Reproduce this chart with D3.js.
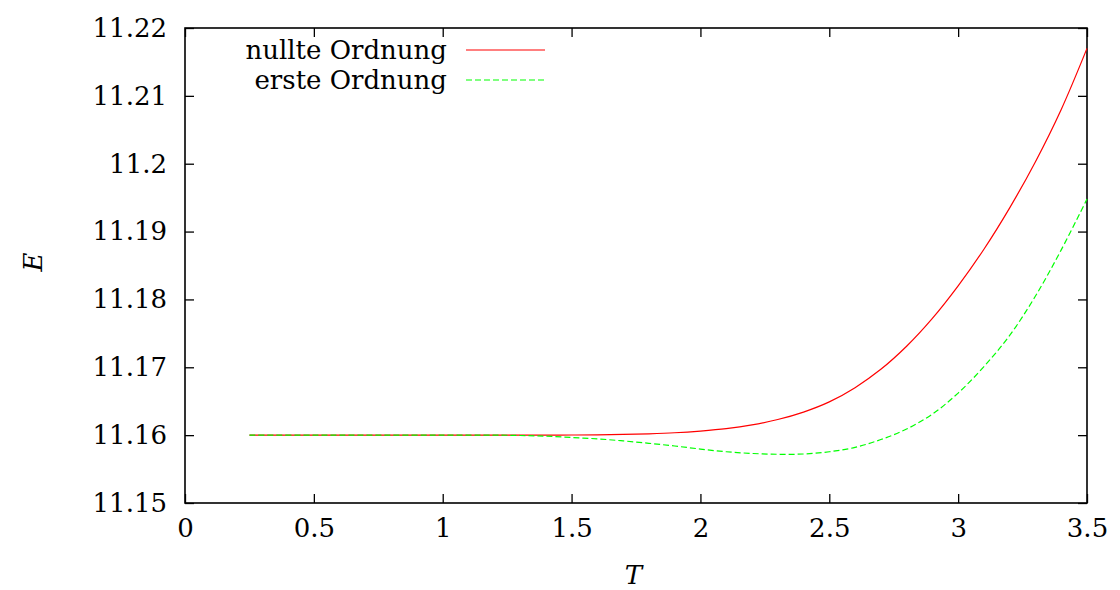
<!DOCTYPE html>
<meta charset="utf-8">
<style>
    body { margin: 0; background: #fff; }
    svg text { font-family: "DejaVu Serif", "Liberation Serif", serif; fill: #000; }
    .axis path { display: none; }
    .axis line { stroke: #000; stroke-width: 1.3px; }
</style>
<svg id="chart" width="1120" height="590"></svg>
<script src="https://cdn.jsdelivr.net/npm/d3@7"></script>
<script>
// T values (x) shared by both series
var tValues = [0.25, 0.5, 0.75, 1.0, 1.2, 1.3, 1.4, 1.5, 1.6, 1.7, 1.8, 1.9, 2.0,
               2.1, 2.2, 2.3, 2.4, 2.5, 2.6, 2.7, 2.8, 2.9, 3.0, 3.1, 3.2, 3.3, 3.4, 3.5];

// nullte Ordnung
var eNullte = [11.16, 11.16, 11.16, 11.16, 11.16, 11.16, 11.16001, 11.16002, 11.16005, 11.1601,
               11.1602, 11.16035, 11.1606, 11.16095, 11.1615, 11.1623, 11.1634, 11.1649,
               11.167, 11.1697, 11.1731, 11.1772, 11.182, 11.1874, 11.1935, 11.2003, 11.208, 11.217];

// erste Ordnung
var eErste = [11.16, 11.16, 11.16, 11.16, 11.16, 11.15995, 11.15985, 11.15965, 11.15945, 11.15915,
              11.1588, 11.1584, 11.15795, 11.15755, 11.1573, 11.15718, 11.15722, 11.15755,
              11.1582, 11.15935, 11.1609, 11.1631, 11.1662, 11.1701, 11.1747, 11.1805, 11.1873, 11.1948];

var seriesNames = ["nullte Ordnung", "erste Ordnung"];
var xTicks = [0, 0.5, 1, 1.5, 2, 2.5, 3, 3.5];
var yTicks = [11.15, 11.16, 11.17, 11.18, 11.19, 11.2, 11.21, 11.22];

var margin = {top: 28, right: 33, bottom: 87, left: 185};
var width = 1120 - margin.left - margin.right;
var height = 590 - margin.top - margin.bottom;

var svg = d3.select("#chart");
var g = svg.append("g").attr("transform", "translate(" + margin.left + "," + margin.top + ")");

var x = d3.scaleLinear().domain([0, 3.5]).range([0, width]);
var y = d3.scaleLinear().domain([11.15, 11.22]).range([height, 0]);

var tickLen = 9;
var fontSize = 26;

// bottom axis with labels, ticks pointing inward
g.append("g").attr("class", "axis")
    .attr("transform", "translate(0," + height + ")")
    .call(d3.axisBottom(x).tickValues(xTicks).tickFormat(d3.format("")).tickSizeInner(-tickLen).tickSizeOuter(0).tickPadding(16))
    .selectAll("text").style("font-size", fontSize + "px");

// top mirror ticks
g.append("g").attr("class", "axis")
    .call(d3.axisTop(x).tickValues(xTicks).tickFormat("").tickSizeInner(-tickLen).tickSizeOuter(0));

// left axis
g.append("g").attr("class", "axis")
    .call(d3.axisLeft(y).tickValues(yTicks).tickFormat(d3.format("")).tickSizeInner(-tickLen).tickSizeOuter(0).tickPadding(18))
    .selectAll("text").style("font-size", fontSize + "px");

// right mirror ticks
g.append("g").attr("class", "axis")
    .attr("transform", "translate(" + width + ",0)")
    .call(d3.axisRight(y).tickValues(yTicks).tickFormat("").tickSizeInner(-tickLen).tickSizeOuter(0));

// frame
g.append("rect")
    .attr("width", width).attr("height", height)
    .attr("fill", "none").attr("stroke", "#000").attr("stroke-width", 1.6);

var line = d3.line()
    .x(d => x(d[0]))
    .y(d => y(d[1]))
    .curve(d3.curveCatmullRom.alpha(0.5));

var series = [
    {name: seriesNames[0], values: eNullte, color: "#ff0000", dash: null},
    {name: seriesNames[1], values: eErste, color: "#00ff00", dash: "6,3"}
];

series.forEach(function(s) {
    g.append("path")
        .datum(tValues.map((t, i) => [t, s.values[i]]))
        .attr("d", line)
        .attr("fill", "none")
        .attr("stroke", s.color)
        .attr("stroke-width", 1.2)
        .attr("stroke-dasharray", s.dash);
});

// legend
var legend = svg.append("g");
series.forEach(function(s, i) {
    var yy = 50 + i * 30;
    legend.append("text")
        .attr("x", 447).attr("y", yy + 9)
        .attr("text-anchor", "end")
        .style("font-size", fontSize + "px")
        .text(s.name);
    legend.append("line")
        .attr("x1", 466).attr("x2", 545)
        .attr("y1", yy).attr("y2", yy)
        .attr("stroke", s.color)
        .attr("stroke-width", 1.2)
        .attr("stroke-dasharray", s.dash);
});

// axis titles
svg.append("text")
    .attr("x", margin.left + x(1.74)).attr("y", 584)
    .attr("text-anchor", "middle")
    .style("font-size", fontSize + "px")
    .style("font-style", "italic")
    .text("T");

svg.append("text")
    .attr("transform", "translate(42," + (margin.top + y(11.1855)) + ") rotate(-90)")
    .attr("text-anchor", "middle")
    .style("font-size", fontSize + "px")
    .style("font-style", "italic")
    .text("E");
</script>
